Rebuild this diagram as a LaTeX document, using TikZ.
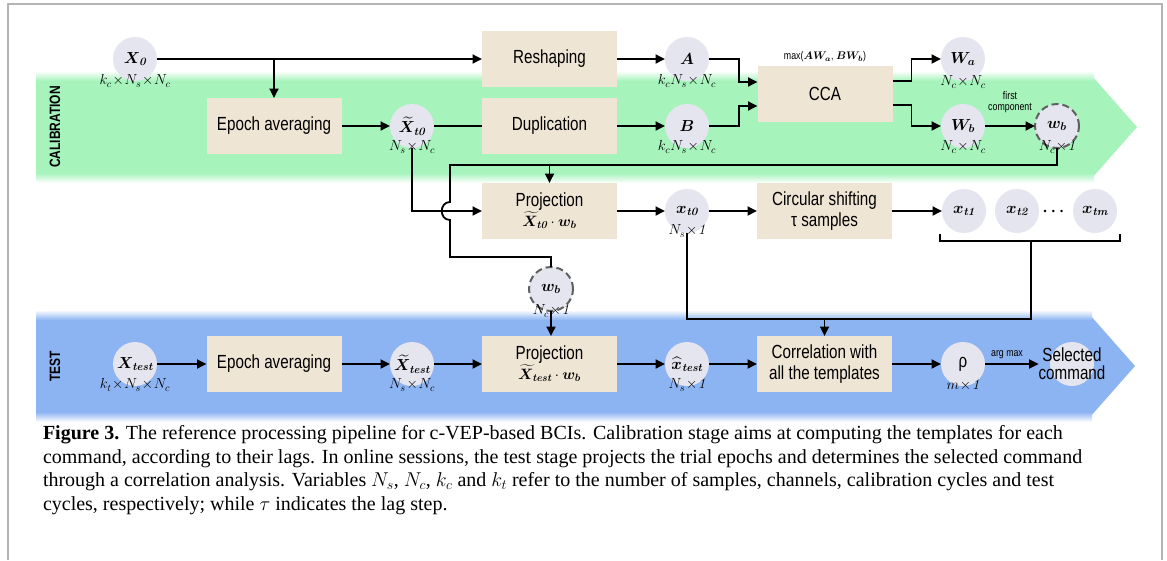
\RequirePackage{fix-cm}
\documentclass[tikz,border=0pt]{standalone}
\usepackage{amsmath}
\usepackage{bm}
\usepackage{fontspec}
\usetikzlibrary{arrows.meta,calc}
\newfontfamily\narrowsans[FakeStretch=0.8]{Liberation Sans}
\newfontfamily\capserif{Liberation Serif}
\newcommand\bxfont{\narrowsans\fontsize{19}{21}\selectfont}
\newcommand\vrfont{\fontsize{16}{18}\selectfont}
\newcommand\frfont{\fontsize{15}{18}\selectfont}
\newcommand\dmfont{\fontsize{14.5}{16}\selectfont}
\newcommand\smfont{\narrowsans\fontsize{11}{11}\selectfont}
\newcommand\lbfont{\narrowsans\bfseries\fontsize{15}{17}\selectfont}
\newcommand\cpfont{\capserif\fontsize{20}{22}\selectfont}
\newcommand\bsub[1]{\textnormal{\bfseries\itshape #1}}
\definecolor{calib}{HTML}{A6F3BC}
\definecolor{testc}{HTML}{8DB4F2}
\definecolor{boxc}{HTML}{EFE5D5}
\definecolor{circc}{HTML}{E4E5EE}
\definecolor{dashc}{HTML}{606060}
\definecolor{framec}{HTML}{B4B4B4}
\tikzset{
  every node/.style={inner sep=0pt, outer sep=0pt},
  box/.style={fill=boxc, minimum width=135pt, minimum height=56pt, font=\bxfont, align=center},
  var/.style={circle, fill=circc, minimum size=44pt, font=\vrfont},
  dvar/.style={var, draw=dashc, line width=2pt, dash pattern=on 7pt off 4pt},
  dim/.style={font=\dmfont},
  conn/.style={line width=1.8pt, draw=black},
  arr/.style={conn, -{Triangle[length=9.5pt,width=9pt]}},
  note/.style={font=\smfont, align=center},
  lane/.style={font=\lbfont, rotate=90},
  capline/.style={font=\cpfont, anchor=base west},
}
\begin{document}
\begin{tikzpicture}[x=1pt,y=-1pt]
\useasboundingbox (0,0) rectangle (1167,560);
\fill[white] (0,0) rectangle (1167,560);
% page frame
\draw[framec, line width=1.6pt] (8,560) -- (8,4) -- (1162,4) -- (1162,560);

% stage bands
\fill[calib] (36,76) -- (1092,76) -- (1137,127) -- (1092,178) -- (36,178) -- cycle;
\shade[top color=white, bottom color=calib] (36,71) rectangle (1094,81);
\shade[top color=calib, bottom color=white] (36,173) rectangle (1094,183);
\fill[testc] (36,315) -- (1090,315) -- (1135,366) -- (1090,417) -- (36,417) -- cycle;
\shade[top color=white, bottom color=testc] (36,310) rectangle (1092,320);
\shade[top color=testc, bottom color=white] (36,412) rectangle (1092,422);
\node[lane] (calL) at (55,127) {CALIBRATION};
\node[lane] (testL) at (55,366) {TEST};

% calibration: first rows
\node[var] (X0) at (135,59) {$\bm{X}_{\bsub{0}}$};
\node[dim] (X0d) at (135,81) {$k_c\!\times\! N_s\!\times\! N_c$};
\node[box] (resh) at (549.5,59) {Reshaping};
\node[var] (A) at (687,59) {$\bm{A}$};
\node[dim] (Ad) at (687,81) {$k_cN_s\!\times\! N_c$};
\node[box] (cca) at (825,94) {CCA};
\node[note] (ccal) at (825,57) {max($\bm{AW}_{\bm{a}}$, $\bm{BW}_{\bm{b}}$)};
\node[var] (Wa) at (963,59) {$\bm{W}_{\bm{a}}$};
\node[dim] (Wad) at (963,82) {$N_c\!\times\! N_c$};

\node[box] (ep1) at (274,126) {Epoch averaging};
\node[var] (Xt0) at (412,126) {$\widetilde{\bm{X}}_{\bsub{t0}}$};
\node[dim] (Xt0d) at (412,147) {$N_s\!\times\! N_c$};
\node[box] (dup) at (549.5,126) {Duplication};
\node[var] (B) at (687,126) {$\bm{B}$};
\node[dim] (Bd) at (687,147) {$k_cN_s\!\times\! N_c$};
\node[var] (Wb) at (963,126) {$\bm{W}_{\bm{b}}$};
\node[dim] (Wbd) at (963,147) {$N_c\!\times\! N_c$};
\node[dvar] (wb) at (1057,126) {$\bm{w}_{\bm{b}}$};
\node[dim] (wbd) at (1057,147) {$N_c\!\times\!\mathit{1}$};
\node[note] (fcl) at (1010,102) {first\\component};

% calibration: template row
\node[box] (proj1) at (549.5,211) {Projection\\[-1pt]{\frfont$\widetilde{\bm{X}}_{\bsub{t0}}\cdot\bm{w}_{\bm{b}}$}};
\node[var] (xt0) at (687,211) {$\bm{x}_{\bsub{t0}}$};
\node[dim] (xt0d) at (687,231) {$N_s\!\times\!\mathit{1}$};
\node[box] (circ) at (824.5,211) {Circular shifting\\τ samples};
\node[var] (xt1) at (964,211) {$\bm{x}_{\bsub{t1}}$};
\node[var] (xt2) at (1017,211) {$\bm{x}_{\bsub{t2}}$};
\node[font=\vrfont] (dots) at (1055,212) {$\bm{\cdots}$};
\node[var] (xtm) at (1095,211) {$\bm{x}_{\bsub{tm}}$};

% test stage
\node[var] (Xte) at (135,364) {$\bm{X}_{\bsub{test}}$};
\node[dim] (Xted) at (135,385) {$k_t\!\times\! N_s\!\times\! N_c$};
\node[box] (ep2) at (274,364) {Epoch averaging};
\node[var] (Xtt) at (412,364) {$\widetilde{\bm{X}}_{\bsub{test}}$};
\node[dim] (Xttd) at (412,385) {$N_s\!\times\! N_c$};
\node[box] (proj2) at (549.5,364) {Projection\\[-1pt]{\frfont$\widetilde{\bm{X}}_{\bsub{test}}\cdot\bm{w}_{\bm{b}}$}};
\node[dvar] (wb2) at (551,289) {$\bm{w}_{\bm{b}}$};
\node[dim] (wb2d) at (551,311) {$N_c\!\times\!\mathit{1}$};
\node[var] (xh) at (687,364) {$\widehat{\bm{x}}_{\bsub{test}}$};
\node[dim] (xhd) at (687,385) {$N_s\!\times\!\mathit{1}$};
\node[box] (corr) at (824.5,364) {Correlation with\\all the templates};
\node[var, font=\narrowsans\fontsize{19}{21}\selectfont] (rho) at (963,364) {ρ};
\node[dim] (rhod) at (963,385) {$m\!\times\!\mathit{1}$};
\node[var] (sel) at (1072,364) {};
\node[font=\bxfont, align=center] (selT) at (1072,364) {Selected\\[-3pt]command};
\node[note] (amax) at (1007,355) {arg max};

% connectors, calibration
\draw[arr] (X0) -- (resh);
\draw[arr] (X0.east -| ep1.north) -- (ep1.north);
\draw[arr] (ep1) -- (Xt0);
\draw[conn] (Xt0) -- (dup);
\draw[arr] (resh) -- (A);
\draw[arr] (dup) -- (B);
\draw[arr] (A.east) -- ++(30,0) |- ($(cca.west)+(0,-12)$);
\draw[arr] (B.east) -- ++(30,0) |- ($(cca.west)+(0,12)$);
\draw[arr] ($(cca.east)+(0,-13)$) -- ++(19,0) |- (Wa.west);
\draw[arr] ($(cca.east)+(0,11)$) -- ++(19,0) |- (Wb.west);
\draw[arr] (Wb) -- (wb);

% spatial filter bus, with a hop over the template line
\coordinate (busE) at (1057,165);
\coordinate (busW) at (450,165);
\coordinate (hopT) at (450,202);
\coordinate (hopB) at (450,220);
\coordinate (busS) at (450,257);
\draw[conn] (wb.south) -- (busE) -- (busW) -- (hopT)
  .. controls (439,202) and (439,220) .. (hopB) -- (busS) -| (wb2.north);
\draw[arr] (proj1.north |- busW) -- (proj1.north);
\draw[arr] (Xt0.south) |- (proj1.west);
\draw[arr] (proj1) -- (xt0);
\draw[arr] (xt0) -- (circ);
\draw[arr] (circ) -- (xt1);

% bracket over the shifted templates
\coordinate (brL) at (940,241);
\coordinate (brR) at (1120,241);
\coordinate (brM) at (1031,241);
\coordinate (tJ) at (1031,319);
\draw[conn] ($(brL)+(0,-7)$) -- (brL) -- (brR) -- ($(brR)+(0,-7)$);
\draw[conn] (xt0.south) |- (tJ) -- (brM);
\draw[arr] (corr.north |- tJ) -- (corr.north);

% connectors, test
\draw[arr] (Xte) -- (ep2);
\draw[arr] (ep2) -- (Xtt);
\draw[arr] (Xtt) -- (proj2);
\draw[arr] (wb2.south) -- (proj2.north -| wb2.south);
\draw[arr] (proj2) -- (xh);
\draw[arr] (xh) -- (corr);
\draw[arr] (corr) -- (rho);
\draw[arr] (rho) -- (selT.west);

% caption
\node[capline] (cap1) at (43,439) {\textbf{Figure 3.} The reference processing pipeline for c-VEP-based BCIs. Calibration stage aims at computing the templates for each};
\node[capline] (cap2) at (43,463) {command, according to their lags. In online sessions, the test stage projects the trial epochs and determines the selected command};
\node[capline] (cap3) at (43,486.5) {through a correlation analysis. Variables $N_s$, $N_c$, $k_c$ and $k_t$ refer to the number of samples, channels, calibration cycles and test};
\node[capline] (cap4) at (43,510) {cycles, respectively; while $\tau$ indicates the lag step.};
\end{tikzpicture}
\end{document}
